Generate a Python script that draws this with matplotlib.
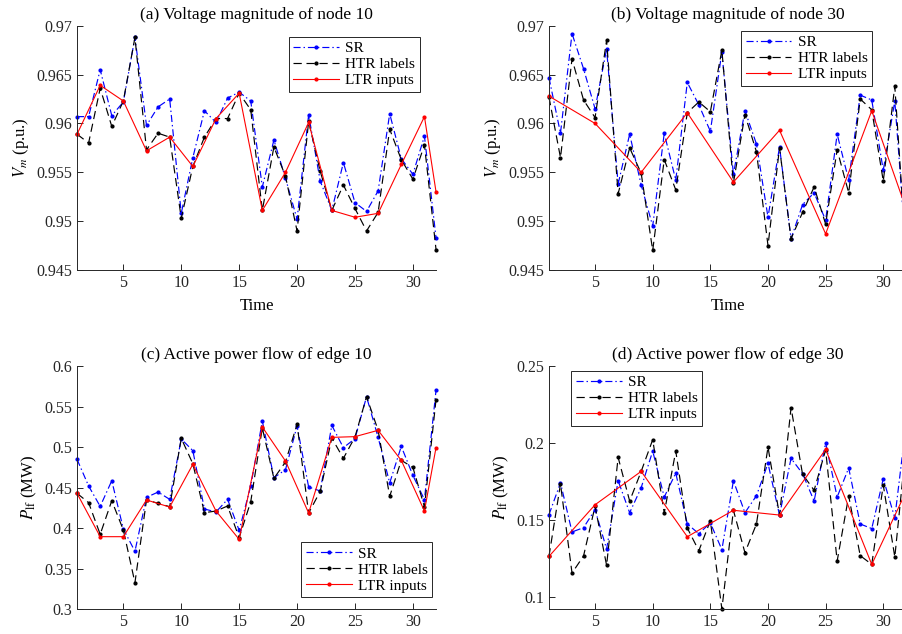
import matplotlib
matplotlib.use("Agg")
import matplotlib.pyplot as plt
from matplotlib.ticker import FormatStrFormatter

plt.rcParams["font.family"] = ["Liberation Serif", "DejaVu Serif"]
plt.rcParams["mathtext.fontset"] = "stix"

time = list(range(1, 33))
t_ltr_2 = [1, 3, 5, 7, 9, 11, 13, 15, 17, 19, 21, 23, 25, 27, 29, 31, 32]
t_ltr_4 = [1, 5, 9, 13, 17, 21, 25, 29, 32]

# (a) voltage, node 10
va_sr = [0.9607, 0.9607, 0.9655, 0.9608, 0.9622, 0.9688, 0.9598, 0.9617, 0.9625, 0.9508,
         0.9565, 0.9613, 0.9601, 0.9626, 0.9632, 0.9623, 0.9535, 0.9583, 0.9544, 0.9502,
         0.9609, 0.9541, 0.9511, 0.9560, 0.9519, 0.9510, 0.9531, 0.9610, 0.9564, 0.9548,
         0.9587, 0.9483]
va_htr = [0.9589, 0.9580, 0.9636, 0.9597, 0.9623, 0.9688, 0.9573, 0.9590, 0.9586, 0.9503,
          0.9556, 0.9586, 0.9605, 0.9605, 0.9631, 0.9614, 0.9511, 0.9576, 0.9546, 0.9490,
          0.9602, 0.9551, 0.9511, 0.9537, 0.9513, 0.9490, 0.9509, 0.9594, 0.9563, 0.9543,
          0.9578, 0.9471]
va_ltr = [0.9589, 0.9639, 0.9623, 0.9572, 0.9586, 0.9556, 0.9605, 0.9631, 0.9511, 0.9550,
          0.9601, 0.9511, 0.9504, 0.9508, 0.9558, 0.9607, 0.9530]

# (b) voltage, node 30
vb_sr = [0.9647, 0.9590, 0.9692, 0.9656, 0.9615, 0.9676, 0.9538, 0.9589, 0.9537, 0.9495,
         0.9590, 0.9542, 0.9642, 0.9619, 0.9592, 0.9673, 0.9548, 0.9613, 0.9579, 0.9504,
         0.9576, 0.9482, 0.9517, 0.9529, 0.9501, 0.9589, 0.9542, 0.9629, 0.9624, 0.9552,
         0.9623, 0.9465]
vb_htr = [0.9627, 0.9565, 0.9666, 0.9624, 0.9606, 0.9685, 0.9528, 0.9575, 0.9549, 0.9470,
          0.9563, 0.9532, 0.9611, 0.9622, 0.9612, 0.9675, 0.9539, 0.9609, 0.9571, 0.9475,
          0.9575, 0.9482, 0.9509, 0.9535, 0.9497, 0.9573, 0.9529, 0.9625, 0.9614, 0.9541,
          0.9638, 0.9462]
vb_ltr = [0.9628, 0.9600, 0.9550, 0.9611, 0.9540, 0.9593, 0.9487, 0.9613, 0.9512]

# (c) power flow, edge 10
pc_sr = [0.4848, 0.4519, 0.4267, 0.4584, 0.3988, 0.3712, 0.4379, 0.4444, 0.4354, 0.5099,
         0.4955, 0.4235, 0.4198, 0.4354, 0.3971, 0.4519, 0.5321, 0.4621, 0.4720, 0.5259,
         0.4506, 0.4457, 0.5267, 0.4992, 0.5103, 0.5621, 0.5119, 0.4556, 0.5008, 0.4650,
         0.4350, 0.5700]
pc_htr = [0.4428, 0.4313, 0.3922, 0.4337, 0.3975, 0.3325, 0.4346, 0.4305, 0.4263, 0.5107,
          0.4794, 0.4189, 0.4210, 0.4272, 0.3881, 0.4325, 0.5235, 0.4613, 0.4815, 0.5280,
          0.4185, 0.4453, 0.5111, 0.4860, 0.5123, 0.5621, 0.5206, 0.4391, 0.4835, 0.4749,
          0.4260, 0.5585]
pc_ltr = [0.4428, 0.3893, 0.3893, 0.4346, 0.4259, 0.4786, 0.4210, 0.3860, 0.5247, 0.4827,
          0.4185, 0.5119, 0.5128, 0.5206, 0.4835, 0.4210, 0.4993]

# (d) power flow, edge 30
pd_sr = [0.1533, 0.1741, 0.1421, 0.1449, 0.1566, 0.1310, 0.1754, 0.1546, 0.1709, 0.1947,
         0.1648, 0.1804, 0.1473, 0.1410, 0.1480, 0.1306, 0.1754, 0.1546, 0.1657, 0.1867,
         0.1530, 0.1900, 0.1800, 0.1622, 0.2001, 0.1648, 0.1837, 0.1473, 0.1443, 0.1767,
         0.1512, 0.2135]
pd_htr = [0.1262, 0.1733, 0.1154, 0.1265, 0.1588, 0.1204, 0.1906, 0.1622, 0.1815, 0.2021,
          0.1544, 0.1947, 0.1447, 0.1299, 0.1494, 0.0920, 0.1562, 0.1286, 0.1473, 0.1973,
          0.1529, 0.2229, 0.1796, 0.1692, 0.1954, 0.1232, 0.1655, 0.1267, 0.1210, 0.1726,
          0.1258, 0.2000]
pd_ltr = [0.1262, 0.1598, 0.1815, 0.1390, 0.1562, 0.1531, 0.1958, 0.1210, 0.1687]

panels = [
    ("(a) Voltage magnitude of node 10", va_sr, va_htr, t_ltr_2, va_ltr, (0.945, 0.97),
     [0.945, 0.95, 0.955, 0.96, 0.965, 0.97], r"$V_m$ (p.u.)", "Time", "upper right"),
    ("(b) Voltage magnitude of node 30", vb_sr, vb_htr, t_ltr_4, vb_ltr, (0.945, 0.97),
     [0.945, 0.95, 0.955, 0.96, 0.965, 0.97], r"$V_m$ (p.u.)", "Time", "upper right"),
    ("(c) Active power flow of edge 10", pc_sr, pc_htr, t_ltr_2, pc_ltr, (0.3, 0.6),
     [0.3, 0.35, 0.4, 0.45, 0.5, 0.55, 0.6], r"$P_{\mathrm{lf}}$ (MW)", None, "lower right"),
    ("(d) Active power flow of edge 30", pd_sr, pd_htr, t_ltr_4, pd_ltr, (0.092, 0.25),
     [0.1, 0.15, 0.2, 0.25], r"$P_{\mathrm{lf}}$ (MW)", None, "upper left"),
]

# axes rectangles in figure fractions (right column runs past the canvas edge)
rects = [
    [0.0854, 0.5741, 0.398, 0.3853],
    [0.6086, 0.5741, 0.3962, 0.3853],
    [0.0854, 0.0394, 0.398, 0.3833],
    [0.6086, 0.0394, 0.3962, 0.3833],
]
leg_anchor = [(0.955, 0.955), (0.904, 0.978), (0.989, 0.049), (0.062, 0.979)]

FS = 11.5
fig = plt.figure(figsize=(9.02, 6.34), dpi=100)
for (title, sr, htr, tl, ltr, ylim, yt, ylab, xlab, loc), rect, anc in zip(panels, rects, leg_anchor):
    ax = fig.add_axes(rect)
    ax.plot(time, sr, color="#0000ff", lw=0.85, dashes=(6, 2.5, 1.2, 2.5), marker=".",
            ms=4, label="SR", clip_on=False)
    ax.plot(time, htr, color="black", lw=0.85, dashes=(7, 4), marker=".", ms=4,
            label="HTR labels", clip_on=False)
    ax.plot(tl, ltr, color="#ff0000", lw=0.8, marker=".", ms=4, label="LTR inputs",
            clip_on=False)
    ax.set_xlim(1, 32)
    ax.set_ylim(*ylim)
    ax.set_xticks([5, 10, 15, 20, 25, 30])
    ax.set_yticks(yt)
    ax.yaxis.set_major_formatter(FormatStrFormatter("%g"))
    for s in ("top", "right"):
        ax.spines[s].set_visible(False)
    for s in ("left", "bottom"):
        ax.spines[s].set_color("#262626")
        ax.spines[s].set_linewidth(0.7)
    ax.tick_params(direction="in", length=4, width=0.7, colors="#262626",
                   labelsize=FS, labelcolor="#262626")
    ax.set_title(title, fontsize=FS + 1, pad=5)
    ax.set_ylabel(ylab, fontsize=FS + 0.5, labelpad=4)
    if xlab:
        ax.set_xlabel(xlab, fontsize=FS + 0.5, labelpad=5)
    leg = ax.legend(loc=loc, bbox_to_anchor=anc, fontsize=11, handlelength=3.0,
                    fancybox=False, framealpha=1, edgecolor="#262626",
                    borderpad=0.3, labelspacing=0.15, handletextpad=0.4, borderaxespad=0)
    leg.get_frame().set_linewidth(0.7)

fig.savefig("out.png", dpi=100)
